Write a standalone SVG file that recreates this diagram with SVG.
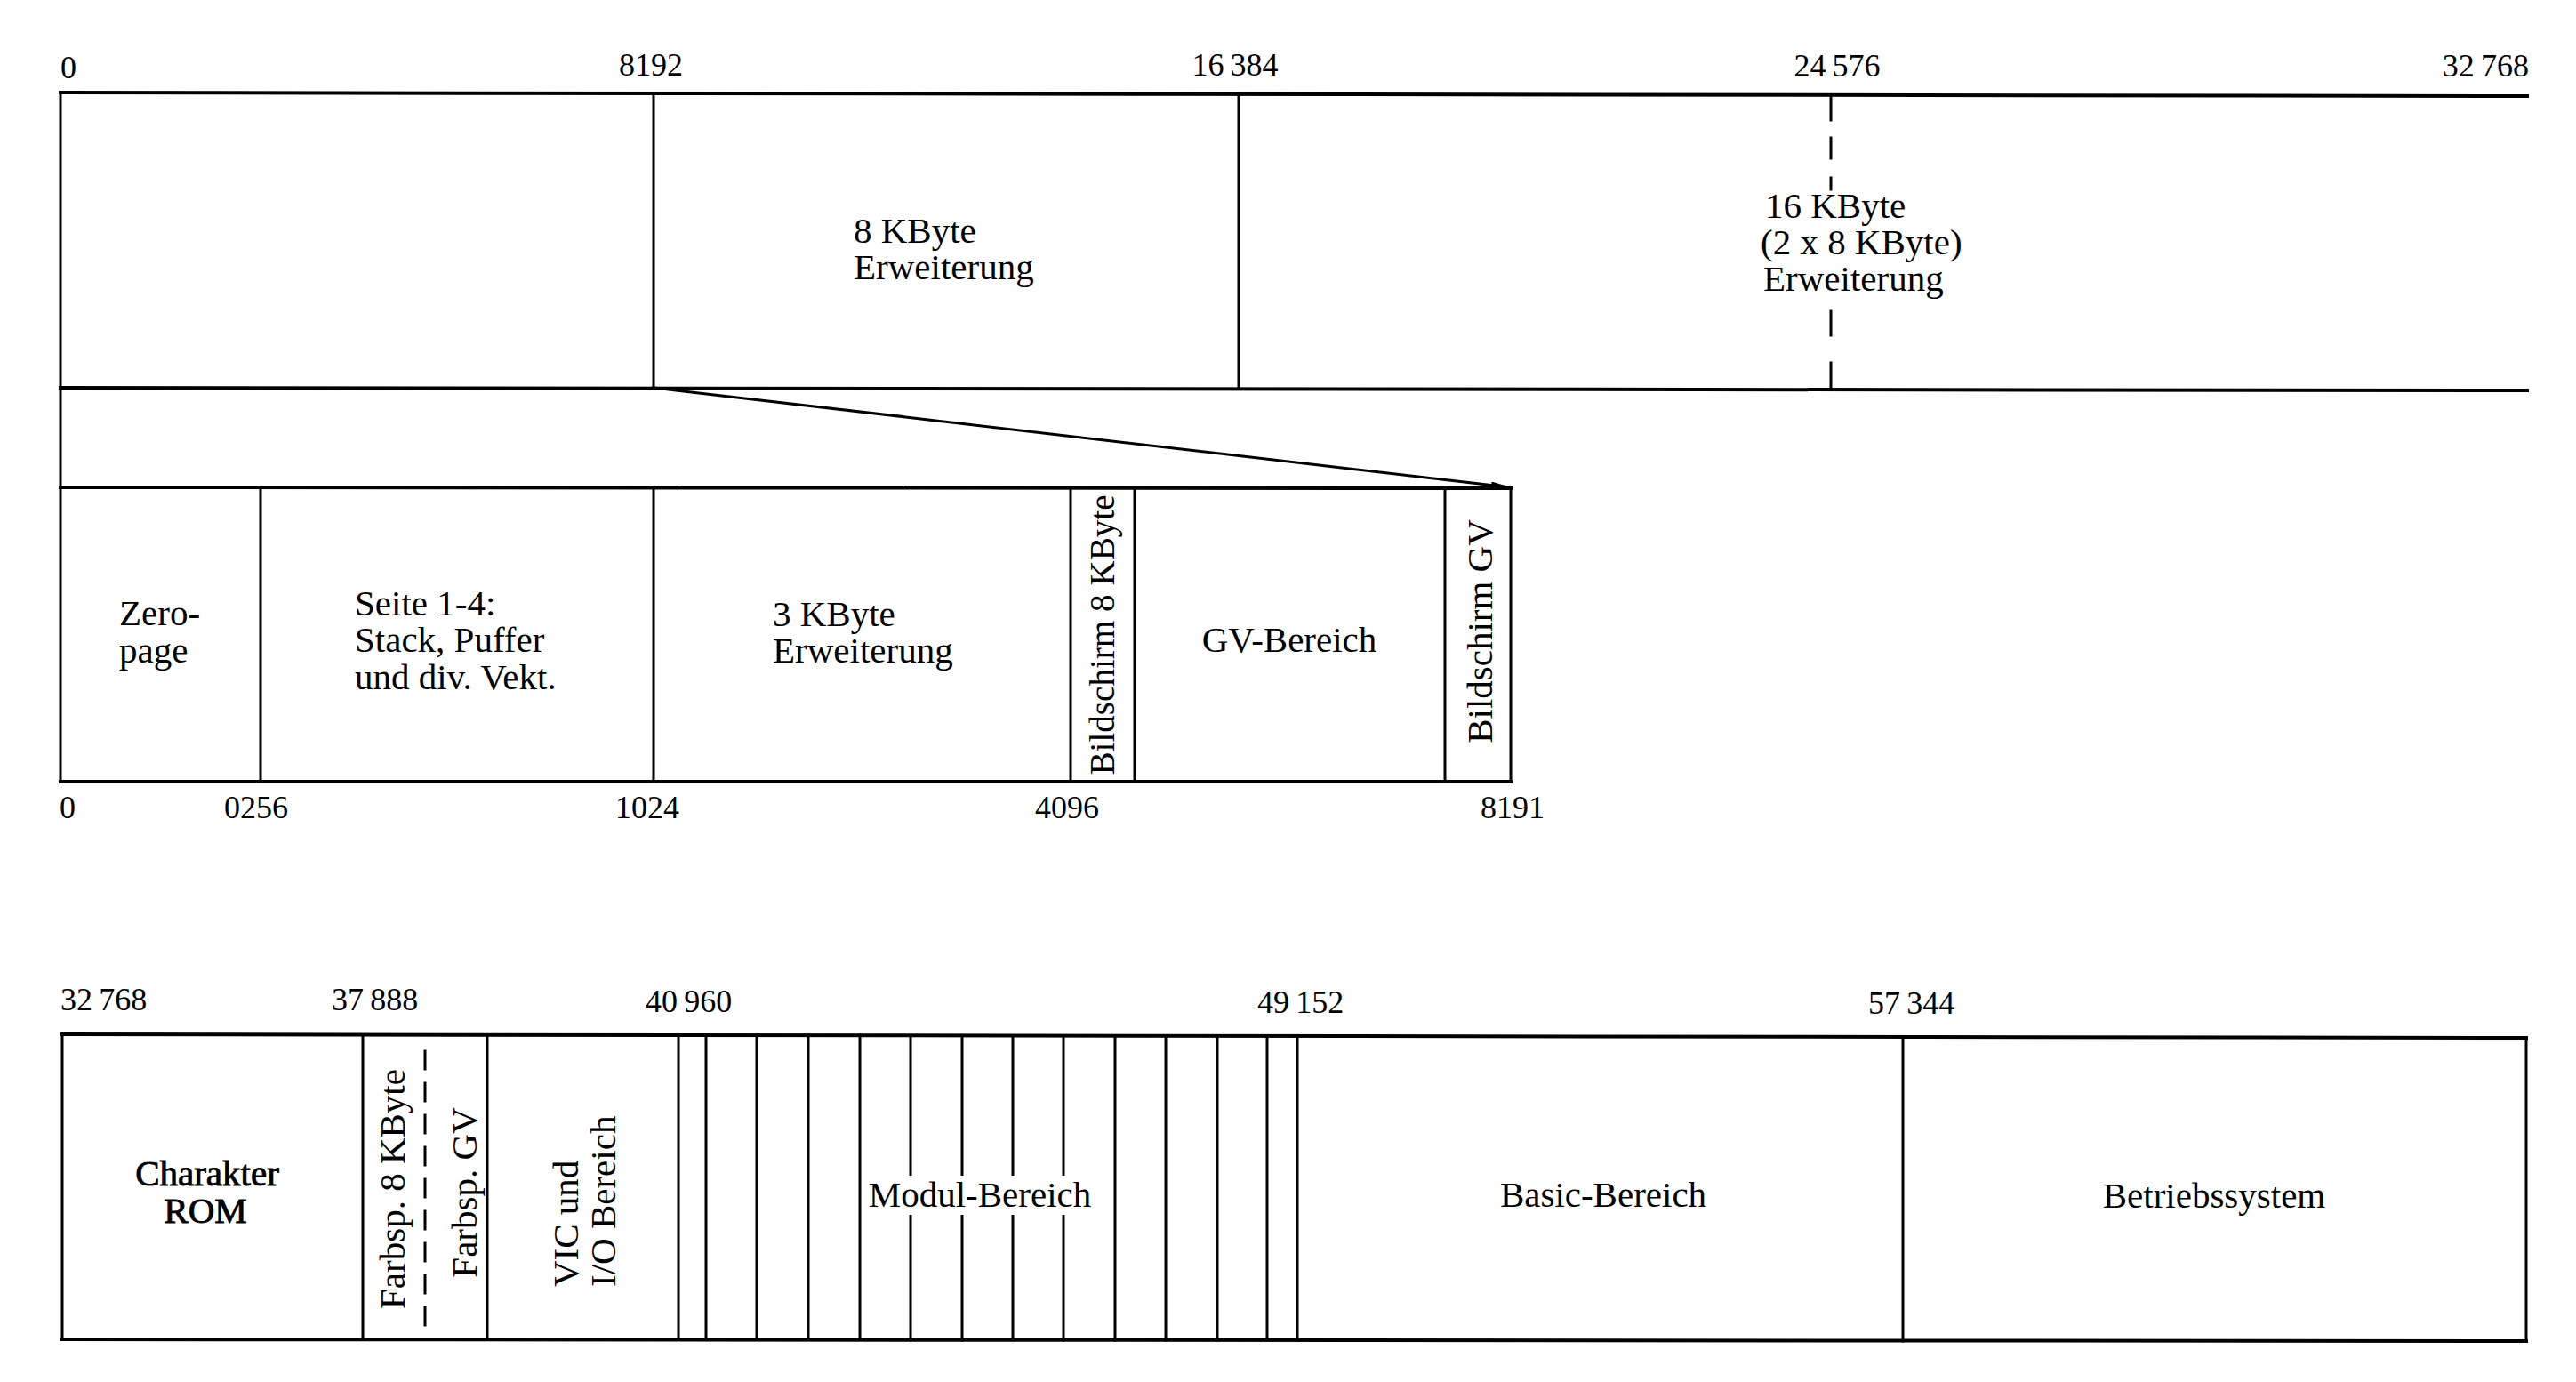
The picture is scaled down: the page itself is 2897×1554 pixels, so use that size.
<svg xmlns="http://www.w3.org/2000/svg" width="2897" height="1554" viewBox="0 0 2897 1554">
<style>
.ln{stroke:#000;stroke-width:3;fill:none;stroke-linecap:square}
.hl{stroke:#000;stroke-width:4;fill:none;stroke-linecap:square}
.t{font-family:"Liberation Serif",serif;font-size:41px;fill:#000}
.n{font-family:"Liberation Serif",serif;font-size:36px;fill:#000}
.m{text-anchor:middle}
.e{text-anchor:end}
.b{stroke:#000;stroke-width:0.9}
</style>
<defs>
<marker id="ah" markerUnits="userSpaceOnUse" markerWidth="24" markerHeight="10" refX="22" refY="4" orient="auto">
<path d="M0,0 L22,4 L0,8 z" fill="#000"/>
</marker>
</defs>
<rect width="2897" height="1554" fill="#fff"/>

<g id="frames">
<path class="hl" d="M68,104 L2842,108"/>
<path class="hl" d="M68,436 L2842,439"/>
<path class="ln" d="M68,104 L68,879"/>
<path class="ln" d="M735,105 L735,436"/>
<path class="ln" d="M1393,106 L1393,437"/>
<path class="ln" d="M2059,108 L2059,135 M2059,155 L2059,178 M2059,200 L2059,213 M2059,350 L2059,377 M2059,408 L2059,437"/>
<path class="hl" d="M68,548 L1699,549"/>
<path class="hl" d="M68,879 L1699,879"/>
<path class="ln" d="M293,548 L293,879 M735,548 L735,879 M1204,548 L1204,879 M1276,549 L1276,879 M1625,549 L1625,879 M1699,549 L1699,879"/>
<path class="hl" d="M70,1163 L2841,1167"/>
<path class="hl" d="M70,1506 L2841,1508"/>
<path class="ln" d="M70,1163 L70,1506 M2841,1167 L2841,1508"/>
<path class="ln" d="M408,1164 L408,1506 M548,1164 L548,1506"/>
<path class="ln" d="M478,1182 L478,1506" stroke-dasharray="20 16"/>
<path class="ln" d="M763,1164 L763,1506 M794,1164 L794,1506 M851,1164 L851,1506 M909,1164 L909,1506 M967,1164 L967,1506 M1024,1165 L1024,1507 M1082,1165 L1082,1507 M1139,1165 L1139,1507 M1196,1165 L1196,1507 M1254,1165 L1254,1507 M1311,1165 L1311,1507 M1369,1165 L1369,1507 M1425,1165 L1425,1507 M1459,1165 L1459,1507 M2140,1166 L2140,1508"/>
</g>

<g id="connectors">
<path class="ln" d="M735,436 L1699,548" marker-end="url(#ah)"/>
</g>

<g id="labels-top">
<text class="n" x="68" y="88">0</text>
<text class="n m" x="732" y="85">8192</text>
<text class="n m" x="1389" y="85">16&#8201;384</text>
<text class="n m" x="2066" y="86">24&#8201;576</text>
<text class="n e" x="2844" y="86">32&#8201;768</text>
</g>

<g id="node-8k">
<text class="t" x="960" y="273">8 KByte</text>
<text class="t" x="960" y="314">Erweiterung</text>
</g>
<g id="node-16k">
<text class="t" x="1985" y="245">16 KByte</text>
<text class="t" x="1980" y="286">(2 x 8 KByte)</text>
<text class="t" x="1983" y="327">Erweiterung</text>
</g>

<g id="node-zeropage">
<text class="t" x="134" y="703">Zero-</text>
<text class="t" x="134" y="745">page</text>
</g>
<g id="node-seite">
<text class="t" x="399" y="692">Seite 1-4:</text>
<text class="t" x="399" y="733">Stack, Puffer</text>
<text class="t" x="399" y="775">und div. Vekt.</text>
</g>
<g id="node-3k">
<text class="t" x="869" y="704">3 KByte</text>
<text class="t" x="869" y="745">Erweiterung</text>
</g>
<g id="node-bildschirm8k">
<text class="t m" transform="translate(1253,714) rotate(-90)" textLength="315" lengthAdjust="spacingAndGlyphs">Bildschirm 8 KByte</text>
</g>
<g id="node-gv">
<text class="t m" x="1450" y="733">GV-Bereich</text>
</g>
<g id="node-bildschirmgv">
<text class="t m" transform="translate(1678,710) rotate(-90)">Bildschirm GV</text>
</g>
<g id="labels-middle">
<text class="n" x="67" y="920">0</text>
<text class="n m" x="288" y="920">0256</text>
<text class="n m" x="728" y="920">1024</text>
<text class="n m" x="1200" y="920">4096</text>
<text class="n m" x="1701" y="920">8191</text>
</g>

<g id="labels-bottom">
<text class="n" x="68" y="1136">32&#8201;768</text>
<text class="n" x="373" y="1136">37&#8201;888</text>
<text class="n" x="726" y="1138">40&#8201;960</text>
<text class="n" x="1414" y="1139">49&#8201;152</text>
<text class="n" x="2101" y="1140">57&#8201;344</text>
</g>
<g id="node-charakter">
<text class="t m b" x="233" y="1333">Charakter</text>
<text class="t m b" x="231" y="1375">ROM</text>
</g>
<g id="node-farbsp8k">
<text class="t m" transform="translate(455,1337) rotate(-90)">Farbsp. 8 KByte</text>
</g>
<g id="node-farbspgv">
<text class="t m" transform="translate(536,1341) rotate(-90)">Farbsp. GV</text>
</g>
<g id="node-vic">
<text class="t" transform="translate(650,1447) rotate(-90)">VIC und<tspan x="0" dy="42">I/O Bereich</tspan></text>
</g>
<g id="node-modul">
<rect x="970" y="1322" width="265" height="44" fill="#fff"/>
<text class="t m" x="1102" y="1357">Modul-Bereich</text>
</g>
<g id="node-basic">
<text class="t m" x="1803" y="1357">Basic-Bereich</text>
</g>
<g id="node-betriebssystem">
<text class="t m" x="2490" y="1358">Betriebssystem</text>
</g>
</svg>
